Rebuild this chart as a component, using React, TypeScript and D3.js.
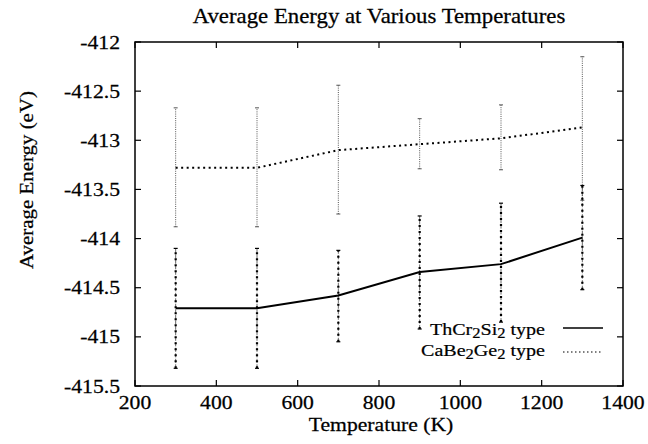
import React from "react";
import * as d3 from "d3";

const temps = [300, 500, 700, 900, 1100, 1300];
const thcrMean = [-414.71, -414.71, -414.58, -414.34, -414.26, -413.99];
const thcrLow = [-415.32, -415.32, -415.05, -414.92, -414.85, -414.52];
const thcrHigh = [-414.1, -414.1, -414.12, -413.77, -413.64, -413.46];
const cabeMean = [-413.28, -413.28, -413.1, -413.04, -412.98, -412.87];
const cabeLow = [-413.88, -413.88, -413.75, -413.29, -413.3, -413.61];
const cabeHigh = [-412.67, -412.67, -412.44, -412.78, -412.64, -412.15];
const xTicks = [200, 400, 600, 800, 1000, 1200, 1400];
const yTicks = [-412, -412.5, -413, -413.5, -414, -414.5, -415, -415.5];

const W = 648, H = 444;
const left = 135, right = 623, top = 42, bottom = 386;
const SX = 1.14;
const FONT = "'Liberation Serif', 'DejaVu Serif', serif";

const x = d3.scaleLinear().domain([200, 1400]).range([left, right]);
const y = d3.scaleLinear().domain([-415.5, -412]).range([bottom, top]);

function T({ x: tx, y: ty, size, anchor = "start", rotate = 0, scale = SX, children }: any) {
  return (
    <text
      transform={`translate(${tx},${ty}) rotate(${rotate}) scale(${scale},1)`}
      fontSize={size}
      textAnchor={anchor}
      fontFamily={FONT}
      fill="#000"
      stroke="#000"
      strokeWidth={0.25}
    >
      {children}
    </text>
  );
}

export default function App() {
  const line = d3
    .line<number>()
    .x((_, i) => x(temps[i]))
    .y((d) => y(d));
  const tl = 6;
  return (
    <svg
      width={W}
      height={H}
      style={{ position: "absolute", left: 0, top: 0, background: "#fff" }}
    >
      <rect x={0} y={0} width={W} height={H} fill="#fff" />
      {/* title */}
      <T x={379} y={23} size={20} anchor="middle">Average Energy at Various Temperatures</T>
      {/* ticks */}
      {xTicks.map((t) => (
        <g key={"x" + t}>
          <line x1={x(t)} x2={x(t)} y1={bottom} y2={bottom - tl} stroke="#000" strokeWidth={1.2} />
          <line x1={x(t)} x2={x(t)} y1={top} y2={top + tl} stroke="#000" strokeWidth={1.2} />
          <T x={x(t)} y={409} size={19} anchor="middle">{String(t)}</T>
        </g>
      ))}
      {yTicks.map((t) => (
        <g key={"y" + t}>
          <line x1={left} x2={left + tl} y1={y(t)} y2={y(t)} stroke="#000" strokeWidth={1.2} />
          <line x1={right} x2={right - tl} y1={y(t)} y2={y(t)} stroke="#000" strokeWidth={1.2} />
          <T x={120} y={y(t) + 6.5} size={19} anchor="end">{String(t)}</T>
        </g>
      ))}
      {/* axis titles */}
      <T x={381} y={431} size={19} anchor="middle">Temperature (K)</T>
      <T x={33} y={180} size={19} anchor="middle" rotate={-90} scale={1.1}>Average Energy (eV)</T>

      {/* CaBe2Ge2 error bars */}
      {temps.map((t, i) => (
        <g key={"cb" + t}>
          <line x1={x(t)} x2={x(t)} y1={y(cabeLow[i])} y2={y(cabeHigh[i])} stroke="#555" strokeWidth={1} strokeDasharray="1,1.2" />
          <line x1={x(t) - 2} x2={x(t) + 2} y1={y(cabeLow[i])} y2={y(cabeLow[i])} stroke="#555" strokeWidth={1} />
          <line x1={x(t) - 2} x2={x(t) + 2} y1={y(cabeHigh[i])} y2={y(cabeHigh[i])} stroke="#555" strokeWidth={1} />
        </g>
      ))}
      {/* ThCr2Si2 error bars */}
      {temps.map((t, i) => (
        <g key={"th" + t}>
          <line x1={x(t)} x2={x(t)} y1={y(thcrLow[i])} y2={y(thcrHigh[i])} stroke="#444" strokeWidth={0.8} strokeDasharray="4,1.5" />
          <line x1={x(t)} x2={x(t)} y1={y(thcrLow[i])} y2={y(thcrHigh[i])} stroke="#000" strokeWidth={2.2} strokeDasharray="2,4" />
          <line x1={x(t) - 2} x2={x(t) + 2} y1={y(thcrLow[i])} y2={y(thcrLow[i])} stroke="#000" strokeWidth={1.2} />
          <line x1={x(t) - 2} x2={x(t) + 2} y1={y(thcrHigh[i])} y2={y(thcrHigh[i])} stroke="#000" strokeWidth={1.2} />
        </g>
      ))}
      {/* lines */}
      <path d={line(cabeMean) || ""} fill="none" stroke="#000" strokeWidth={2} strokeDasharray="2,3.5" />
      <path d={line(thcrMean) || ""} fill="none" stroke="#000" strokeWidth={2} />

      {/* legend */}
      <text
        transform={`translate(545,335) scale(1.18,1)`}
        fontSize={17}
        textAnchor="end"
        fontFamily={FONT}
        stroke="#000"
        strokeWidth={0.2}
      >
        ThCr<tspan dy={3} fontSize={14}>2</tspan><tspan dy={-3}>Si</tspan><tspan dy={3} fontSize={14}>2</tspan><tspan dy={-3}> type</tspan>
      </text>
      <line x1={563} x2={603} y1={328} y2={328} stroke="#000" strokeWidth={1.6} />
      <text
        transform={`translate(545,356) scale(1.18,1)`}
        fontSize={17}
        textAnchor="end"
        fontFamily={FONT}
        stroke="#000"
        strokeWidth={0.2}
      >
        CaBe<tspan dy={3} fontSize={14}>2</tspan><tspan dy={-3}>Ge</tspan><tspan dy={3} fontSize={14}>2</tspan><tspan dy={-3}> type</tspan>
      </text>
      <line x1={563} x2={603} y1={352} y2={352} stroke="#000" strokeWidth={1.2} strokeDasharray="1.5,2.5" />

      {/* frame */}
      <rect x={left} y={top} width={right - left} height={bottom - top} fill="none" stroke="#000" strokeWidth={1.5} />
    </svg>
  );
}
